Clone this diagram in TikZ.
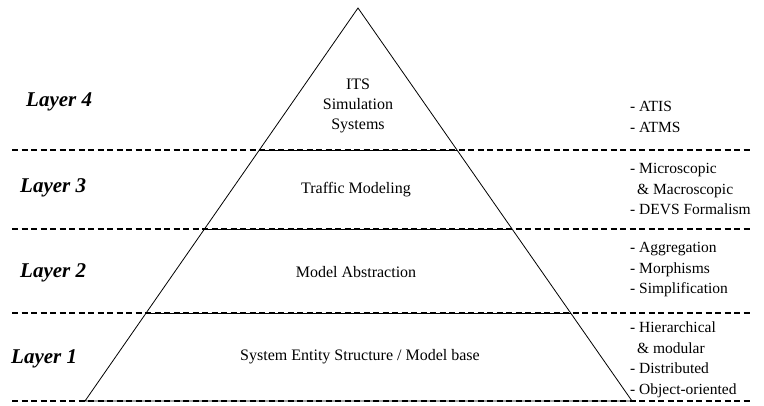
\documentclass[tikz,border=0pt]{standalone}
\usepackage{fontspec}
\setmainfont{Liberation Serif}
\usetikzlibrary{calc}
\begin{document}
\begin{tikzpicture}[x=1pt,y=-1pt,
  layerlbl/.style={font=\fontsize{21}{23}\selectfont\bfseries\itshape, anchor=west, inner sep=0pt},
  midtext/.style={font=\fontsize{16}{20}\selectfont, align=center, inner sep=0pt},
  notes/.style={font=\fontsize{15.5}{20.5}\selectfont, align=left, anchor=west, inner sep=0pt},
  sepline/.style={line width=1.4pt, dash pattern=on 6pt off 3.5pt},
  edgeline/.style={line width=0.8pt}]
\useasboundingbox (0,0) rectangle (764,406);
% triangle corners
\coordinate (apex) at (358,8);
\coordinate (bl) at (85,401);
\coordinate (br) at (632,401);
% level intersections
\coordinate (l1) at ($(apex)!0.3613!(bl)$);
\coordinate (r1) at ($(apex)!0.3613!(br)$);
\coordinate (l2) at ($(apex)!0.5623!(bl)$);
\coordinate (r2) at ($(apex)!0.5623!(br)$);
\coordinate (l3) at ($(apex)!0.7761!(bl)$);
\coordinate (r3) at ($(apex)!0.7761!(br)$);
% dashed separators
\coordinate (d1a) at (12,150); \coordinate (d1b) at (752,150);
\coordinate (d2a) at (12,229); \coordinate (d2b) at (752,229);
\coordinate (d3a) at (12,313); \coordinate (d3b) at (752,313);
\coordinate (d4a) at (12,401); \coordinate (d4b) at (752,401);
\draw[sepline] (d1a) -- (d1b);
\draw[sepline] (d2a) -- (d2b);
\draw[sepline] (d3a) -- (d3b);
\draw[sepline] (d4a) -- (d4b);
% pyramid
\draw[edgeline] (bl) -- (apex) -- (br) -- cycle;
\draw[edgeline] (l1) -- (r1);
\draw[edgeline] (l2) -- (r2);
\draw[edgeline] (l3) -- (r3);
% layer labels
\node[layerlbl] (lay4) at (26,102) {Layer 4};
\node[layerlbl] (lay3) at (20,188) {Layer 3};
\node[layerlbl] (lay2) at (20,273) {Layer 2};
\node[layerlbl] (lay1) at (11,359) {Layer 1};
% pyramid texts
\node[midtext] (t4) at (358,106) {ITS\\Simulation\\Systems};
\node[midtext] (t3) at (356,190) {Traffic Modeling};
\node[midtext] (t2) at (356,272) {Model Abstraction};
\node[midtext] (t1) at (360,357) {System Entity Structure / Model base};
% notes
\node[notes] (n4) at (630,117) {- ATIS\\- ATMS};
\node[notes] (n3) at (630,189) {- Microscopic\\\hspace{7pt}\& Macroscopic\\- DEVS Formalism};
\node[notes] (n2) at (630,270) {- Aggregation\\- Morphisms\\- Simplification};
\node[notes] (n1) at (630,360) {- Hierarchical\\\hspace{7pt}\& modular\\- Distributed\\- Object-oriented};
\end{tikzpicture}
\end{document}
